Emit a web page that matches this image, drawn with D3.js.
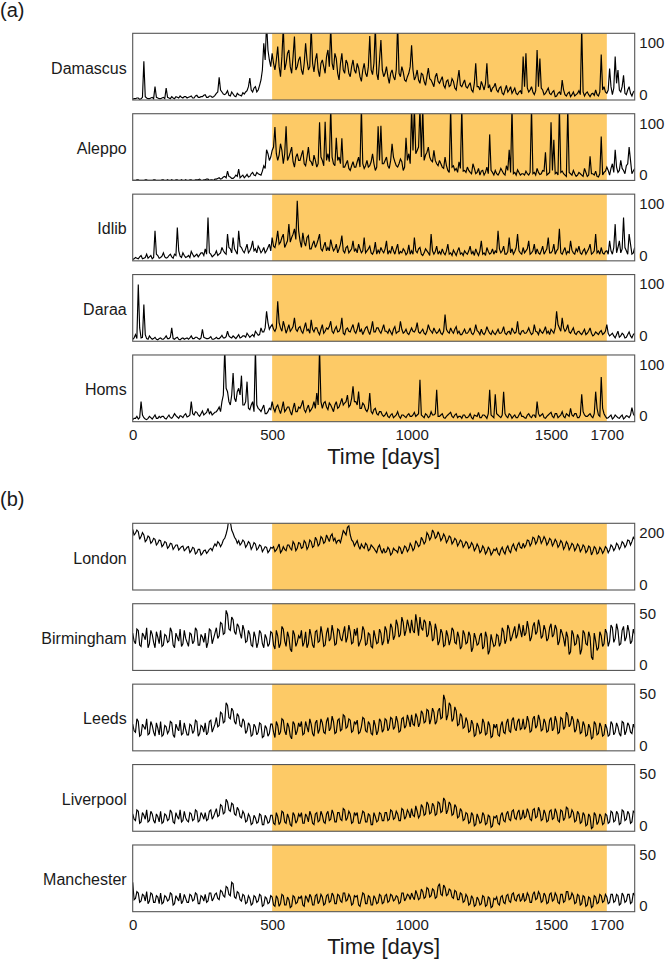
<!DOCTYPE html>
<html><head><meta charset="utf-8">
<script src="https://cdn.jsdelivr.net/npm/d3@7"></script>
<style>body{margin:0;background:#fff} svg{display:block} text{font-family:"Liberation Sans",Arial,Helvetica,sans-serif}</style>
</head><body><svg id="c" width="666" height="960"></svg>
<script>
// ---- data ----
// "*" arrays: samples at days 0,10,...,1800 ; "*Mid" arrays: samples at days 5,15,...,1795
const sampleStepDays = 5;
const xTickValues = [0, 500, 1000, 1500, 1700];
const highlightDays = [500, 1700];
const groupLabels = ["(a)", "(b)"];
const axisTitle = "Time [days]";
const citiesA = ["Damascus", "Aleppo", "Idlib", "Daraa", "Homs"];
const citiesB = ["London", "Birmingham", "Leeds", "Liverpool", "Manchester"];
const yMaxA = [100, 100, 100, 100, 100];
const yMaxB = [200, 50, 50, 50, 50];

const damascus = [
1,2,3,2,58,3,2,4,20,3, 2,4,18,3,5,2,4,6,3,5, 4,6,3,7,4,5,8,4,6,5, 10,34,12,8,14,6,9,5,8,6,
9,14,33,12,20,15,30,85,115,60, 70,45,80,35,110,55,75,40,95,50, 65,38,85,45,110,42,70,35,60,40,
75,110,45,62,30,70,40,55,35,60, 40,48,28,55,35,96,38,110,30,90, 35,50,25,45,30,115,35,42,28,40,
82,30,45,25,38,22,48,30,20,40, 25,35,18,30,22,28,15,45,20,30, 18,26,12,55,20,28,15,55,22,18,
25,12,20,8,22,15,10,18,8,14, 65,70,12,20,8,75,62,15,10,18, 8,14,6,12,30,8,10,5,12,8,
14,110,6,12,5,10,15,6,68,20, 10,47,8,65,45,12,37,8,20,6,14];
const damascusMid = [
2,3,1,4,5,2,3,2,4,2, 3,2,4,2,3,5,3,4,5,3, 5,3,6,4,5,7,4,6,4,7, 12,15,9,10,7,12,6,10,7,11,
12,20,15,18,12,22,45,60,75,50, 55,60,50,65,45,70,50,65,45,60, 45,55,60,50,55,60,45,55,50,65,
50,55,70,40,55,45,60,40,50,45, 55,35,45,40,50,45,55,40,60,45, 40,35,40,35,45,40,50,30,35,50,
45,35,30,40,28,35,32,25,35,28, 30,22,28,20,32,18,30,22,25,20, 22,15,25,20,15,22,25,18,12,20,
15,18,10,15,12,20,14,10,12,9, 20,18,15,12,14,20,18,8,14,10, 12,5,10,8,15,6,12,8,6,10,
8,12,10,8,9,7,8,12,15,12, 15,20,18,25,15,20,10,15,10,12];
const aleppo = [
0,0,1,0,0,1,0,0,1,0, 0,1,0,0,1,0,1,0,0,1, 0,1,0,1,2,0,1,2,1,0, 2,4,3,6,14,5,3,8,17,6,
4,9,6,12,7,10,8,22,46,30, 45,80,30,55,25,81,35,50,20,40, 30,45,22,50,28,38,20,87,30,88,
40,110,25,64,35,63,20,30,15,28, 20,35,110,18,30,22,40,15,81,82, 25,35,18,55,28,20,32,15,64,40,
110,110,45,110,110,38,50,30,45,25, 30,20,35,15,110,22,18,28,110,15, 20,12,25,10,18,14,8,20,69,12,
15,8,18,10,22,46,110,12,16,8, 10,14,8,110,12,18,9,15,42,10, 87,61,12,110,14,8,110,10,15,6,
12,8,18,6,36,10,14,5,66,12, 20,8,25,46,12,30,15,22,50,10,18];
const aleppoMid = [
0,1,0,0,1,0,0,1,0,0, 1,0,1,0,0,1,0,1,0,0, 1,0,1,1,0,1,2,0,1,2, 3,2,5,4,6,3,5,6,4,8,
6,5,10,8,12,9,14,18,40,35, 50,40,38,45,40,30,42,28,35,30, 38,25,35,30,22,30,25,35,22,30,
28,35,22,30,25,20,25,18,22,20, 28,20,25,22,20,28,25,20,30,25, 30,22,30,35,22,25,28,20,30,25,
45,40,50,35,30,42,35,28,30,22, 25,18,22,12,20,15,12,18,14,12, 15,10,18,12,8,15,12,10,15,8,
10,12,14,8,15,12,10,8,12,10, 8,10,12,10,8,12,10,14,8,12, 15,10,8,12,10,6,12,8,10,8,
10,6,12,8,10,8,6,10,8,14, 15,18,12,20,15,18,10,25,30,14];
const idlib = [
2,5,3,8,4,10,6,3,45,8, 5,12,4,8,6,10,50,7,12,5, 8,14,6,10,9,12,18,65,10,8, 15,10,20,12,40,18,35,14,45,20,
12,25,15,30,18,22,12,20,15,25, 35,20,45,28,40,25,55,35,48,90, 30,42,22,38,18,30,25,40,15,28,
20,32,15,25,18,38,12,22,15,30, 18,25,12,35,15,22,10,28,16,20, 12,30,15,22,10,25,14,18,9,24,
15,35,12,20,8,18,12,40,10,22, 14,18,9,25,12,16,8,20,12,15, 10,22,14,18,8,30,12,20,10,18,
15,45,12,22,10,35,18,14,40,12, 20,15,30,12,25,18,10,22,14,35, 12,25,15,48,10,20,14,30,12,18,
22,10,18,14,25,12,40,15,20,10, 15,30,10,55,20,12,65,15,40,10,20];
const idlibMid = [
3,4,6,3,5,4,8,5,10,4, 7,6,5,10,4,8,15,5,8,6, 5,10,8,6,12,8,10,12,6,10, 8,12,15,10,20,12,18,10,22,15,
18,12,20,15,12,18,15,12,20,15, 22,30,25,35,20,30,28,40,32,45, 20,28,35,18,25,20,32,18,22,15,
15,22,18,12,25,15,20,12,18,14, 12,18,15,12,18,12,15,10,12,15, 18,10,12,15,18,10,12,15,12,10,
10,15,18,10,12,15,8,15,14,10, 10,12,15,10,8,12,15,10,8,12, 15,10,8,12,15,10,8,14,12,10,
12,18,15,10,14,12,10,20,15,10, 12,18,10,15,10,12,15,10,18,12, 15,10,18,12,15,10,12,16,10,14,
12,15,10,18,10,15,12,10,12,14, 10,15,20,12,30,18,20,10,25,12];
const daraa = [
3,10,85,5,55,4,8,3,6,2, 5,3,8,4,20,3,6,2,5,4, 3,8,4,6,3,18,5,4,7,3, 6,4,9,5,15,6,8,4,10,6,
8,12,6,10,15,9,20,14,45,18, 25,15,60,20,30,12,25,18,35,15, 22,12,28,18,32,14,20,10,25,15,
18,30,12,22,15,35,10,20,14,25, 12,28,18,15,22,10,30,14,20,12, 25,15,18,10,22,14,30,12,18,10,
20,14,28,12,18,10,25,15,20,12, 18,10,40,14,20,12,22,15,10,18, 12,20,10,25,14,18,10,22,12,16,
10,18,12,22,10,15,20,12,30,10, 16,12,20,10,25,14,18,12,22,15, 18,12,45,20,35,15,25,12,20,10,
15,10,18,12,20,8,14,10,16,12, 25,8,12,5,15,8,10,6,14,5,12];
const daraaMid = [
5,4,20,6,10,3,5,4,3,4, 3,5,4,6,4,5,3,4,3,5, 5,4,6,4,5,6,4,5,3,4, 4,6,5,7,8,5,6,7,5,8,
6,9,8,7,12,10,14,20,28,22, 18,20,28,15,22,18,15,22,18,20, 15,20,16,12,18,20,14,18,12,20,
22,15,18,14,20,12,18,15,20,15, 18,14,10,20,15,18,14,20,15,18, 15,12,14,18,12,15,18,14,12,15,
15,18,14,15,12,15,18,12,15,14, 12,15,18,12,15,18,12,10,14,12, 15,12,14,16,10,12,14,16,10,12,
14,12,15,12,14,10,15,14,12,15, 12,15,14,12,15,10,14,16,12,10, 15,20,25,15,20,18,14,16,12,14,
12,14,10,15,12,10,12,14,10,15, 12,10,8,10,6,12,5,10,8,10];
const homs = [
3,5,4,30,6,3,8,4,10,5, 6,8,4,10,5,12,7,9,6,12, 8,30,10,14,8,16,12,20,15,12, 15,22,30,110,45,25,73,30,50,69,
25,60,18,30,110,20,15,25,12,20, 30,15,25,12,30,18,22,10,28,15, 20,32,14,25,18,30,43,110,20,30,
18,25,15,30,22,35,28,40,25,53, 30,45,20,25,15,43,12,20,10,15, 8,14,6,12,8,15,5,10,6,12,
8,14,10,63,8,12,6,15,10,48, 8,12,5,10,14,6,12,8,5,10, 6,12,4,9,14,6,10,5,48,8,
41,10,6,45,8,12,5,10,6,14, 8,5,12,6,10,30,8,12,5,10, 14,6,12,8,15,6,10,20,8,12,
6,41,10,8,12,6,45,10,67,12, 5,8,4,10,6,8,4,9,6,21,8];
const homsMid = [
5,8,6,10,4,5,6,7,5,8, 8,5,7,6,8,9,5,8,10,7, 10,12,15,10,12,10,14,12,10,14, 18,15,40,50,30,40,35,45,40,25,
30,20,25,15,25,18,20,12,15,18, 20,22,18,20,15,22,15,20,15,22, 25,18,20,15,22,20,25,30,28,22,
28,20,25,20,28,25,30,22,35,30, 25,20,28,18,20,15,18,12,15,10, 10,8,10,6,10,8,10,8,10,8,
10,8,12,10,6,10,8,10,12,8, 10,6,8,12,8,10,6,8,10,6, 8,6,10,8,6,10,8,12,10,6,
12,8,10,12,6,10,8,6,10,8, 6,10,8,10,6,12,10,6,8,12, 8,12,6,10,8,12,8,10,12,6,
10,15,8,10,8,12,20,8,20,8, 6,10,6,8,5,10,6,8,10,12];
const london = [
182,170,175,160,165,150,158,145,152,140, 148,135,142,130,138,128,135,125,132,122, 130,118,125,112,122,110,120,115,125,130,
132,140,138,155,185,205,170,152,148,140, 145,135,140,130,138,125,132,122,128,118, 125,115,128,112,130,118,135,120,138,125,
140,128,142,130,145,132,150,138,155,145, 155,162,148,140,150,160,172,188,165,145, 140,132,138,125,135,122,130,118,128,120,
125,115,122,110,120,112,125,118,128,122, 132,125,140,135,150,145,165,158,172,160, 165,155,160,150,158,145,150,140,145,135,
140,130,135,125,130,118,125,115,122,112, 118,110,120,115,125,118,130,125,135,128, 140,135,148,140,155,145,158,148,152,142,
150,140,145,135,142,130,138,128,135,125, 132,122,130,118,128,115,125,112,122,118, 125,120,130,125,135,130,140,135,148,145,152];
const londonMid = [
165,180,152,172,145,162,140,155,135,150, 130,145,125,140,122,135,120,130,118,128, 112,128,108,122,105,118,110,122,118,138,
145,130,150,168,215,180,158,140,135,150, 128,145,122,142,120,135,115,130,112,128, 130,120,138,118,122,135,125,145,118,142,
125,148,122,150,128,158,132,160,140,165, 145,168,155,148,142,178,165,192,150,132, 148,122,130,140,118,135,125,112,135,110,
112,128,105,125,118,130,108,132,115,140, 118,148,130,158,138,172,150,180,155,175, 148,168,142,162,138,155,132,150,128,145,
125,142,118,138,112,132,108,128,105,122, 125,105,128,108,132,112,138,118,142,125, 128,150,132,158,138,162,140,160,135,155,
132,152,128,148,122,145,120,140,118,138, 115,135,112,132,105,130,108,128,110,130, 112,135,118,140,122,145,128,150,135,158];
const birmingham = [
28,20,30,18,26,32,20,27,17,25, 30,19,26,22,29,17,25,31,20,24, 18,27,22,30,19,25,28,21,30,24, 32,26,35,28,42,30,38,27,33,24,
30,22,27,18,25,21,28,17,24,20, 28,16,26,20,31,18,25,14,27,21, 24,18,29,20,26,17,30,22,27,19,
32,24,28,20,30,22,33,25,29,21, 26,18,24,30,20,27,17,25,21,28, 22,30,24,32,26,34,27,36,30,33,
38,28,35,40,30,36,27,33,24,30, 22,28,19,26,23,30,20,25,18,27, 21,26,17,24,20,28,18,25,15,22,
19,26,21,29,23,31,25,33,27,30, 34,28,31,25,36,29,33,26,30,24, 35,27,31,22,28,18,25,14,27,20,
24,16,28,19,25,8,22,17,26,20, 28,22,32,24,30,20,33,25,29,22,27];
const birminghamMid = [
22,31,19,28,23,17,30,21,29,20, 18,27,21,32,19,28,22,18,30,21, 28,20,32,19,27,21,17,31,20,28, 24,36,27,45,31,40,29,35,28,34,
21,30,19,29,17,30,20,27,18,29, 19,30,17,33,22,29,16,30,18,26, 30,21,17,31,19,29,21,33,18,28,
22,34,19,31,24,28,21,34,20,31, 32,21,33,19,28,18,30,20,31,19, 33,20,35,23,38,25,40,26,38,28,
30,42,26,32,38,25,37,22,35,19, 31,18,30,19,32,21,29,16,30,20, 29,14,28,19,26,16,29,12,27,18,
27,18,32,20,34,22,29,24,35,25, 26,37,22,33,27,38,24,34,22,32, 25,34,19,31,24,29,12,30,19,27,
12,30,20,29,10,28,15,29,18,31, 18,34,21,35,19,30,22,34,20,31];
const leeds = [
20,14,22,12,18,24,13,19,11,17, 22,12,18,15,21,10,17,23,13,16, 12,19,15,22,13,18,21,14,23,17, 25,19,28,22,34,24,30,20,26,18,
22,15,19,12,18,14,20,11,17,13, 20,10,19,14,23,12,18,9,20,15, 18,12,22,14,20,11,23,16,21,13,
25,17,22,14,24,16,26,18,23,15, 20,13,18,24,14,20,12,19,15,22, 16,23,17,24,18,22,15,25,19,23,
27,19,25,21,28,22,30,24,29,22, 32,25,38,27,34,24,30,20,26,18, 22,15,20,12,18,14,21,13,19,11,
17,12,19,14,21,15,23,17,22,16, 24,18,22,15,26,19,23,16,21,15, 25,17,22,14,24,18,27,20,23,16,
21,14,19,12,17,10,20,13,18,12, 17,12,20,14,18,11,21,15,19,13,17];
const leedsMid = [
15,24,11,20,16,12,22,14,21,12, 11,19,13,22,12,20,15,12,21,12, 20,13,23,11,19,14,12,22,14,20, 18,29,21,36,25,32,22,28,19,24,
13,21,11,20,12,21,10,19,11,20, 14,22,12,24,15,21,11,22,12,21, 22,13,18,24,13,21,13,24,14,22,
15,26,13,23,15,27,17,24,14,22, 23,14,25,15,22,13,23,12,24,14, 24,15,25,16,26,14,24,17,27,18,
20,28,18,30,21,31,20,32,20,30, 24,42,23,36,22,33,19,28,17,25, 14,23,11,21,13,24,12,22,10,20,
20,11,22,13,24,14,25,15,24,17, 16,26,14,24,17,27,15,24,14,23, 15,26,13,25,16,29,18,26,14,24,
13,22,11,20,9,22,12,21,11,20, 11,22,12,21,13,22,12,21,14,20];
const liverpool = [
13,8,15,7,12,16,8,13,6,11, 15,7,12,9,14,6,11,16,8,10, 7,13,9,15,8,12,14,9,16,11, 17,12,19,14,22,15,20,12,16,10,
13,8,11,6,10,7,12,5,10,7, 12,5,11,7,14,6,10,4,12,8, 11,6,13,7,12,5,14,8,12,6,
15,9,13,7,14,8,16,10,13,7, 12,6,10,14,7,12,5,11,8,13, 8,14,9,15,10,13,8,16,11,14,
17,11,15,12,18,13,20,14,19,13, 21,15,23,16,20,13,18,11,15,9, 13,7,12,5,10,7,12,6,11,4,
10,6,12,8,13,9,15,10,14,9, 16,11,14,8,17,11,15,9,13,8, 16,10,14,7,15,10,17,11,14,8,
13,7,12,5,11,3,12,7,11,6, 12,7,14,8,13,6,15,9,13,7,14];
const liverpoolMid = [
9,16,6,14,9,7,15,8,13,7, 6,13,8,16,7,14,9,7,15,8, 14,8,16,7,14,9,8,15,9,14, 11,20,13,24,16,21,13,18,11,15,
7,13,5,12,6,13,5,12,6,12, 6,14,5,15,7,13,5,14,6,13, 14,6,11,15,6,13,7,15,7,13,
8,16,7,14,9,17,8,15,6,14, 14,6,15,7,13,5,14,7,14,8, 14,8,16,9,15,8,17,9,16,10,
12,19,10,20,12,22,13,21,12,22, 14,25,13,22,12,20,10,17,8,14, 6,14,4,13,6,14,5,12,3,11,
12,5,14,7,15,8,16,9,16,10, 10,17,9,16,10,18,8,16,7,15, 9,17,8,16,8,18,10,16,7,15,
6,14,4,13,2,14,5,13,5,13, 6,15,7,15,5,16,8,15,6,15];
const manchester = [
22,10,14,8,12,15,8,13,7,11, 14,7,11,9,13,6,10,14,8,10, 7,12,9,13,6,11,13,8,14,10, 14,9,15,11,18,12,21,10,14,8,
12,7,10,6,11,8,12,5,10,7, 11,4,10,6,12,5,9,4,11,7, 10,5,12,7,11,5,13,8,11,6,
13,8,12,6,12,7,14,9,11,6, 11,5,9,13,6,11,5,10,7,12, 7,13,8,12,9,11,7,14,10,12,
14,9,13,10,15,11,17,12,16,11, 21,12,18,13,16,10,15,9,13,8, 11,6,10,5,9,6,11,5,10,4,
9,6,11,7,12,8,13,9,12,8, 14,9,12,7,15,10,13,8,12,7, 14,9,12,6,13,8,15,10,12,7,
12,6,11,5,10,4,11,7,12,8, 11,7,13,8,12,6,12,8,13,7,12];
const manchesterMid = [
9,15,7,13,8,6,14,7,12,6, 6,12,8,14,5,12,8,6,13,7, 13,8,14,6,12,8,7,14,8,13, 10,16,12,19,13,22,11,15,9,13,
6,12,5,12,7,13,4,11,6,12, 5,12,4,13,5,11,3,12,6,11, 12,4,10,13,5,12,6,13,5,12,
7,14,6,13,8,14,8,13,5,12, 12,4,14,6,12,5,12,6,13,6, 12,7,13,8,12,6,14,8,13,9,
11,16,9,17,10,18,11,17,10,19, 13,20,12,17,11,16,9,14,7,13, 5,12,4,11,5,12,4,11,3,10,
11,5,12,6,13,7,14,8,13,9, 8,14,7,13,9,15,7,14,6,13, 8,14,7,13,7,15,9,14,6,13,
5,12,4,11,3,12,6,13,7,13, 6,13,7,13,5,14,7,13,6,14];

const seriesA = [[damascus, damascusMid], [aleppo, aleppoMid], [idlib, idlibMid], [daraa, daraaMid], [homs, homsMid]];
const seriesB = [[london, londonMid], [birmingham, birminghamMid], [leeds, leedsMid], [liverpool, liverpoolMid], [manchester, manchesterMid]];

// merge the 10-day samples and the in-between samples into one day-ordered list
function merge(main, mid) {
  const out = [];
  main.forEach((v, i) => { out.push(v); if (i < mid.length) out.push(mid[i]); });
  return out;
}

// ---- layout ----
const svg = d3.select("#c");
const panelLeft = 132.7, panelRight = 634.7;
const panelH = 66.7, panelStep = 80.42;
const x = d3.scaleLinear().domain([0, 1800]).range([panelLeft, panelRight]);
const orange = "#fdca66";
const frameColor = "#555";
const textColor = "#1a1a1a";

function drawGroup(gi, labelBaseline, firstTop, cities, series, yMaxes) {
  svg.append("text").attr("x", 0).attr("y", labelBaseline)
    .attr("font-size", 20).attr("fill", textColor).text(groupLabels[gi]);
  let lastBottom = 0;
  cities.forEach((city, k) => {
    const top = firstTop + k * panelStep;
    const bottom = top + panelH;
    lastBottom = bottom;
    const y = d3.scaleLinear().domain([0, yMaxes[k]]).range([bottom, top]);
    const g = svg.append("g");
    const cid = "clip" + gi + "_" + k;
    svg.append("clipPath").attr("id", cid).append("rect")
      .attr("x", panelLeft).attr("y", top).attr("width", panelRight - panelLeft).attr("height", panelH);
    g.append("rect").attr("x", x(highlightDays[0])).attr("y", top)
      .attr("width", x(highlightDays[1]) - x(highlightDays[0])).attr("height", panelH)
      .attr("fill", orange);
    const vals = merge(series[k][0], series[k][1]);
    const line = d3.line().x((d, i) => x(i * sampleStepDays)).y(d => y(d));
    g.append("path").datum(vals).attr("d", line)
      .attr("fill", "none").attr("stroke", "#000").attr("stroke-width", 1.15)
      .attr("stroke-linejoin", "miter").attr("stroke-miterlimit", 3)
      .attr("clip-path", `url(#${cid})`);
    g.append("rect").attr("x", panelLeft).attr("y", top)
      .attr("width", panelRight - panelLeft).attr("height", panelH)
      .attr("fill", "none").attr("stroke", frameColor).attr("stroke-width", 1.1);
    g.append("text").attr("x", 126.7).attr("y", (top + bottom) / 2 + 7)
      .attr("text-anchor", "end").attr("font-size", 16).attr("fill", textColor).text(city);
    const ax = svg.append("g").attr("transform", `translate(${panelRight},0)`)
      .call(d3.axisRight(y).tickValues([0, yMaxes[k]]).tickSize(0).tickPadding(4.6).tickFormat(d3.format("d")));
    ax.select(".domain").remove();
    ax.selectAll("text").attr("font-size", 15).attr("fill", textColor)
      .attr("font-family", null)
      .attr("dy", d => d === 0 ? "-0.7px" : "14.4px");
  });
  const bx = svg.append("g").attr("transform", `translate(0,${lastBottom})`)
    .call(d3.axisBottom(x).tickValues(xTickValues).tickSize(0).tickPadding(7.8).tickFormat(d3.format("d")));
  bx.select(".domain").remove();
  bx.selectAll("text").attr("font-size", 15).attr("fill", textColor).attr("font-family", null);
  svg.append("text").attr("x", (panelLeft + panelRight) / 2).attr("y", lastBottom + 42)
    .attr("text-anchor", "middle").attr("font-size", 22).attr("fill", textColor).text(axisTitle);
}

drawGroup(0, 16.5, 33.3, citiesA, seriesA, yMaxA);
drawGroup(1, 505.8, 523.3, citiesB, seriesB, yMaxB);
</script></body></html>
